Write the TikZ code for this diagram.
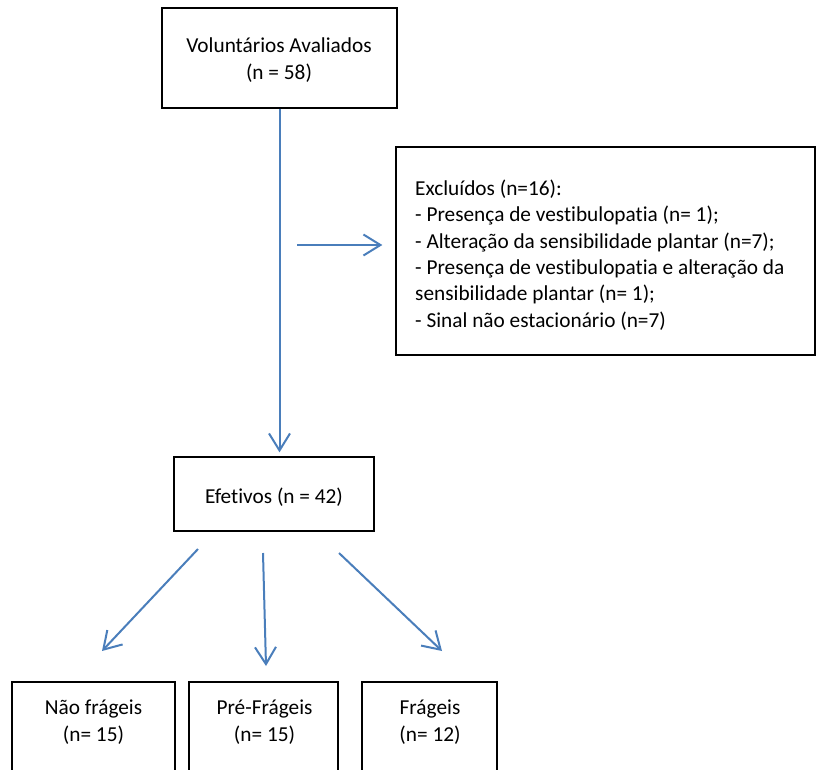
\documentclass[tikz,border=0pt]{standalone}
\usepackage{fontspec}
\setmainfont{Carlito}[Ligatures=NoCommon]
\usetikzlibrary{arrows.meta,calc}
\definecolor{arrblue}{RGB}{74,126,187}
\newcommand\fsz{\fontsize{21.3}{26.4}\selectfont}
\begin{document}
\begin{tikzpicture}[x=1pt,y=-1pt,
  box/.style={draw=black, line width=1.3pt, inner sep=0pt},
  txt/.style={inner sep=0pt, align=center, font=\fsz},
  arr/.style={draw=arrblue, line width=2pt, -{Straight Barb[length=17pt,width=21pt]}},
]
\useasboundingbox (0,0) rectangle (816,769);
\clip (0,0) rectangle (816,769);

\node[box, minimum width=235pt, minimum height=100pt] (vol) at (279.5,58) {};
\node[txt] (volt) at (279,60) {Voluntários Avaliados\\(n = 58)};
\node[box, minimum width=419pt, minimum height=208pt] (excl) at (605.5,251) {};
\node[txt, align=left, anchor=west] (excltxt) at (415,255) {Excluídos (n=16):\\- Presença de vestibulopatia (n= 1);\\- Alteração da sensibilidade plantar (n=7);\\- Presença de vestibulopatia e alteração da\\sensibilidade plantar (n= 1);\\- Sinal não estacionário (n=7)};
\node[box, minimum width=200pt, minimum height=74pt] (eff) at (274,494) {};
\node[txt] (efft) at (274,497) {Efetivos (n = 42)};

\node[box, minimum width=163pt, minimum height=118pt] (b1) at (93.5,741) {};
\node[txt] (b1t) at (93.5,722) {Não frágeis\\(n= 15)};
\node[box, minimum width=149pt, minimum height=118pt] (b2) at (263.5,741) {};
\node[txt] (b2t) at (264.5,722) {Pré-Frágeis\\(n= 15)};
\node[box, minimum width=135pt, minimum height=118pt] (b3) at (429.5,741) {};
\node[txt] (b3t) at (430,722) {Frágeis\\(n= 12)};

\draw[arr, shorten >=4pt] (vol.south) -- (vol.south |- eff.north);
\coordinate (h0) at (297,245);
\draw[arr, shorten >=13pt] (h0) -- (h0 -| excl.west);

\coordinate (s1) at (198,549);
\coordinate (t1) at (102,651);
\coordinate (s2) at (263,553);
\coordinate (t2) at (266,666);
\coordinate (s3) at (339,553);
\coordinate (t3) at (442,651);
\draw[arr] (s1) -- (t1);
\draw[arr] (s2) -- (t2);
\draw[arr] (s3) -- (t3);
\end{tikzpicture}
\end{document}
